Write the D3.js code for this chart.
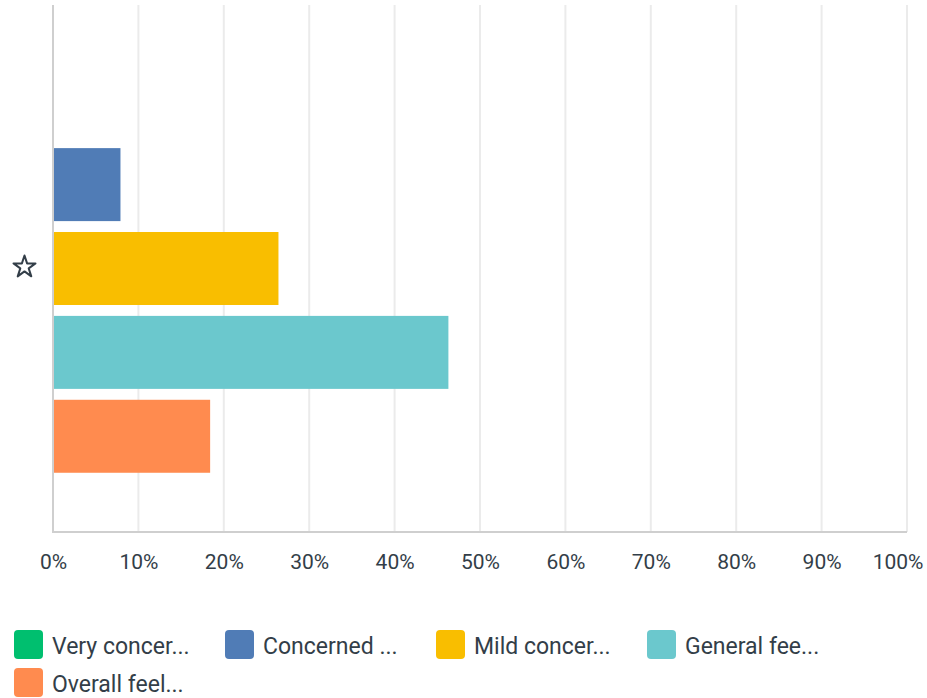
<!DOCTYPE html>
<html>
<head>
<meta charset="utf-8">
<script src="https://cdn.jsdelivr.net/npm/d3@7"></script>
<style>
  html, body { margin: 0; padding: 0; background: #fff; }
  svg { display: block; }
  text { font-family: "Roboto", "Open Sans", sans-serif; fill: #333e48; }
</style>
</head>
<body>
<svg id="chart" width="927" height="698"></svg>
<script>
// ---- data ----
const categories = ["☆"];
const seriesNames = ["Very concer...", "Concerned ...", "Mild concer...", "General fee...", "Overall feel..."];
const seriesValues = [0, 7.9, 26.4, 46.3, 18.4];
const seriesColors = ["#00bf6f", "#507cb6", "#f9be00", "#6bc8cd", "#ff8b4f"];
const tickValues = [0, 10, 20, 30, 40, 50, 60, 70, 80, 90, 100];
const tickLabels = ["0%", "10%", "20%", "30%", "40%", "50%", "60%", "70%", "80%", "90%", "100%"];

const svg = d3.select("#chart");
const W = 927, H = 698;
const plot = { left: 53, right: 907, top: 5, bottom: 532 };

const x = d3.scaleLinear().domain([0, 100]).range([plot.left, plot.right]);
const y0 = d3.scaleBand().domain(categories).range([plot.top, plot.bottom]).paddingInner(0).paddingOuter(0.145);
const y1 = d3.scaleBand().domain(seriesNames).range([0, y0.bandwidth()]).paddingInner(0.13).paddingOuter(0);

// gridlines
svg.append("g").selectAll("line")
  .data(tickValues.filter(d => d > 0))
  .join("line")
  .attr("x1", d => x(d)).attr("x2", d => x(d))
  .attr("y1", plot.top).attr("y2", plot.bottom)
  .attr("stroke", "#ebebeb").attr("stroke-width", 2);

// bars
const rows = categories.map(c => ({ cat: c, vals: seriesNames.map((s, i) => ({ s, v: seriesValues[i], c: seriesColors[i] })) }));
const g = svg.append("g").selectAll("g").data(rows).join("g")
  .attr("transform", d => `translate(0,${y0(d.cat)})`);
g.selectAll("rect").data(d => d.vals).join("rect")
  .attr("x", x(0))
  .attr("y", d => y1(d.s))
  .attr("width", d => x(d.v) - x(0))
  .attr("height", y1.bandwidth())
  .attr("fill", d => d.c);

// axes lines
svg.append("line").attr("x1", plot.left).attr("x2", plot.left).attr("y1", plot.top).attr("y2", plot.bottom)
  .attr("stroke", "#cfcfcf").attr("stroke-width", 2);
svg.append("line").attr("x1", plot.left - 1).attr("x2", plot.right).attr("y1", plot.bottom).attr("y2", plot.bottom)
  .attr("stroke", "#cfcfcf").attr("stroke-width", 2);

// x tick labels via axis
const xAxis = d3.axisBottom(x).tickValues(tickValues).tickFormat((d, i) => tickLabels[i]).tickSize(0).tickPadding(0);
const ax = svg.append("g").attr("transform", `translate(0,${plot.bottom})`).call(xAxis);
ax.select(".domain").remove();
ax.selectAll("text").attr("dy", null).attr("y", 37)
  .style("font-size", "21px").style("font-family", "Roboto, sans-serif").attr("fill", "#333e48");
// keep the last label inside the picture (right-aligned to the edge, as in the reference)
ax.selectAll(".tick").filter(d => d === 100).select("text")
  .attr("text-anchor", "end").attr("x", W - 4 - x(100));

// category label: star icon
svg.append("g").selectAll("path").data(categories).join("path")
  .attr("d", d3.symbol(d3.symbolStar, 150)())
  .attr("transform", d => `translate(24.5,${y0(d) + y0.bandwidth() / 2 - 1.5})`)
  .attr("fill", "none").attr("stroke", "#333e48").attr("stroke-width", 2).attr("stroke-linejoin", "round");

// legend
const leg = svg.append("g").selectAll("g").data(seriesNames).join("g")
  .attr("transform", (d, i) => `translate(${14 + (i % 4) * 211},${630 + Math.floor(i / 4) * 38})`);
leg.append("rect").attr("width", 29).attr("height", 29).attr("rx", 4).attr("ry", 4)
  .attr("fill", (d, i) => seriesColors[i]);
leg.append("text").attr("x", 38).attr("y", 24).text(d => d)
  .style("font-size", "23px");
</script>
</body>
</html>
